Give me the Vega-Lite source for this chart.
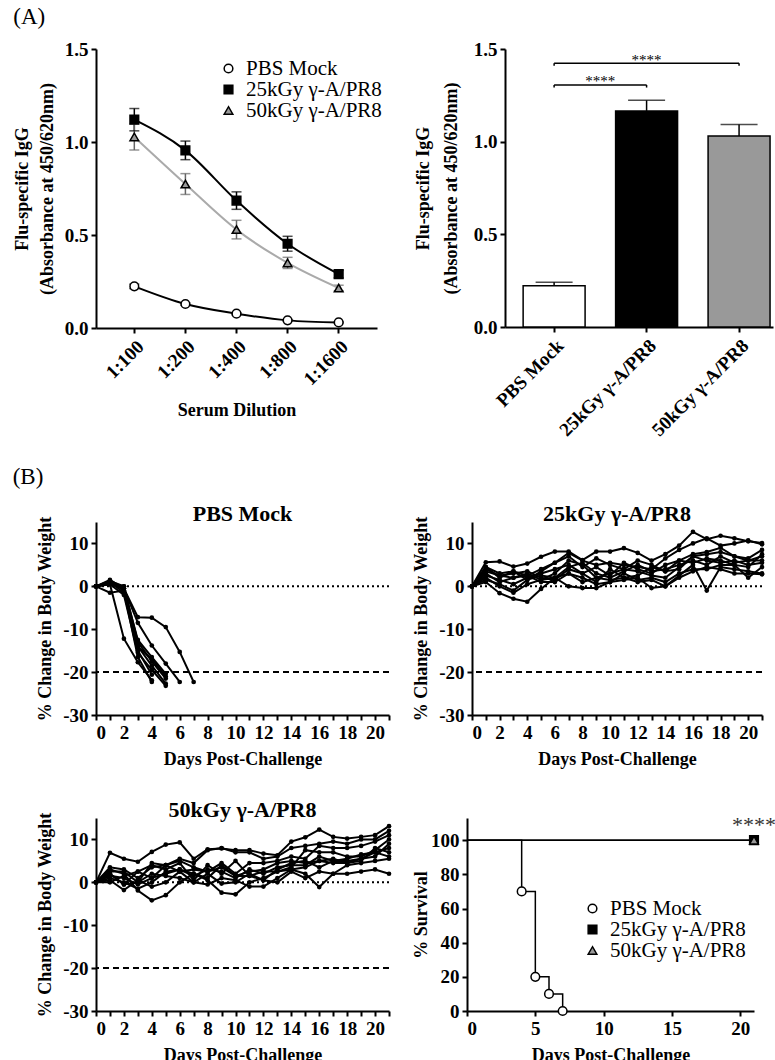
{
"$schema": "https://vega.github.io/schema/vega-lite/v6.json",
"background": "white",
"padding": {"left": 12, "top": 6, "right": 0, "bottom": 0},
"config": {
  "font": "Liberation Serif",
  "view": {"stroke": null},
  "axis": {"grid": false, "domainColor": "black", "domainWidth": 2, "tickColor": "black", "tickWidth": 2, "tickSize": 5, "labelFont": "Liberation Serif", "labelFontWeight": "bold", "labelFontSize": 19, "labelColor": "black", "titleFont": "Liberation Serif", "titleFontWeight": "bold", "titleFontSize": 18, "titleColor": "black", "labelPadding": 3, "labelOverlap": false},
  "title": {"font": "Liberation Serif", "fontWeight": "bold", "fontSize": 22, "color": "black", "offset": -10, "frame": "group"},
  "legend": {"labelFont": "Liberation Serif", "labelFontSize": 21, "labelColor": "black", "padding": 0, "rowPadding": 0}
},
"resolve": {"scale": {"fill": "independent", "shape": "independent"}},
"datasets": {
  "elisa": [
    {"group": "PBS Mock", "dil": "1:100", "mean": 0.224, "lo": 0.212, "hi": 0.236},
    {"group": "PBS Mock", "dil": "1:200", "mean": 0.129, "lo": 0.123, "hi": 0.135},
    {"group": "PBS Mock", "dil": "1:400", "mean": 0.077, "lo": 0.072, "hi": 0.082},
    {"group": "PBS Mock", "dil": "1:800", "mean": 0.041, "lo": 0.037, "hi": 0.045},
    {"group": "PBS Mock", "dil": "1:1600", "mean": 0.03, "lo": 0.027, "hi": 0.033},
    {"group": "25kGy γ-A/PR8", "dil": "1:100", "mean": 1.12, "lo": 1.06, "hi": 1.18},
    {"group": "25kGy γ-A/PR8", "dil": "1:200", "mean": 0.955, "lo": 0.905, "hi": 1.005},
    {"group": "25kGy γ-A/PR8", "dil": "1:400", "mean": 0.685, "lo": 0.638, "hi": 0.732},
    {"group": "25kGy γ-A/PR8", "dil": "1:800", "mean": 0.453, "lo": 0.413, "hi": 0.493},
    {"group": "25kGy γ-A/PR8", "dil": "1:1600", "mean": 0.29, "lo": 0.27, "hi": 0.31},
    {"group": "50kGy γ-A/PR8", "dil": "1:100", "mean": 1.027, "lo": 0.957, "hi": 1.097},
    {"group": "50kGy γ-A/PR8", "dil": "1:200", "mean": 0.774, "lo": 0.718, "hi": 0.83},
    {"group": "50kGy γ-A/PR8", "dil": "1:400", "mean": 0.529, "lo": 0.479, "hi": 0.579},
    {"group": "50kGy γ-A/PR8", "dil": "1:800", "mean": 0.35, "lo": 0.32, "hi": 0.38},
    {"group": "50kGy γ-A/PR8", "dil": "1:1600", "mean": 0.215, "lo": 0.2, "hi": 0.23}
  ],
  "bars": [
    {"group": "PBS Mock", "mean": 0.222, "hi": 0.242},
    {"group": "25kGy γ-A/PR8", "mean": 1.166, "hi": 1.223},
    {"group": "50kGy γ-A/PR8", "mean": 1.03, "hi": 1.092}
  ],
  "brk": [
    {"a": "PBS Mock", "b": "25kGy γ-A/PR8", "y": 1.306},
    {"a": "PBS Mock", "b": "50kGy γ-A/PR8", "y": 1.423}
  ],
  "brkends": [
    {"g": "PBS Mock", "y1": 1.292, "y2": 1.306},
    {"g": "25kGy γ-A/PR8", "y1": 1.292, "y2": 1.306},
    {"g": "PBS Mock", "y1": 1.409, "y2": 1.423},
    {"g": "50kGy γ-A/PR8", "y1": 1.409, "y2": 1.423}
  ],
  "pbsw": [
    {"m":"a","d":0,"v":0},{"m":"a","d":1,"v":0.5},{"m":"a","d":2,"v":-0.5},{"m":"a","d":3,"v":-7.2},{"m":"a","d":4,"v":-7.3},{"m":"a","d":5,"v":-9.5},{"m":"a","d":6,"v":-15.3},{"m":"a","d":7,"v":-22.3},
    {"m":"b","d":0,"v":0},{"m":"b","d":1,"v":1.0},{"m":"b","d":2,"v":-0.5},{"m":"b","d":3,"v":-8.5},{"m":"b","d":4,"v":-13.8},{"m":"b","d":5,"v":-18},{"m":"b","d":6,"v":-22.3},
    {"m":"c","d":0,"v":0},{"m":"c","d":1,"v":0.5},{"m":"c","d":2,"v":-12.2},{"m":"c","d":3,"v":-17.7},{"m":"c","d":4,"v":-21.9},
    {"m":"d","d":0,"v":0},{"m":"d","d":1,"v":1.0},{"m":"d","d":2,"v":-1.5},{"m":"d","d":3,"v":-14},{"m":"d","d":4,"v":-18.5},{"m":"d","d":5,"v":-22.7},
    {"m":"e","d":0,"v":0},{"m":"e","d":1,"v":0.5},{"m":"e","d":2,"v":-2},{"m":"e","d":3,"v":-15.5},{"m":"e","d":4,"v":-19.5},{"m":"e","d":5,"v":-23.2},
    {"m":"f","d":0,"v":0},{"m":"f","d":1,"v":1.3},{"m":"f","d":2,"v":-1},{"m":"f","d":3,"v":-16.5},{"m":"f","d":4,"v":-22.3},
    {"m":"g","d":0,"v":0},{"m":"g","d":1,"v":0.8},{"m":"g","d":2,"v":0},{"m":"g","d":3,"v":-15},{"m":"g","d":4,"v":-20.6},
    {"m":"h","d":0,"v":0},{"m":"h","d":1,"v":1.2},{"m":"h","d":2,"v":0},{"m":"h","d":3,"v":-13},{"m":"h","d":4,"v":-17.5},{"m":"h","d":5,"v":-21.5},
    {"m":"i","d":0,"v":0},{"m":"i","d":1,"v":1.5},{"m":"i","d":2,"v":-0.5},{"m":"i","d":3,"v":-12.5},{"m":"i","d":4,"v":-16.5},{"m":"i","d":5,"v":-20.4},
    {"m":"j","d":0,"v":0},{"m":"j","d":1,"v":-1.5},{"m":"j","d":2,"v":-1},{"m":"j","d":3,"v":-14},{"m":"j","d":4,"v":-17},{"m":"j","d":5,"v":-21}
  ],
  "k25w": [
    {"m":"a","d":0,"v":0},{"m":"a","d":1,"v":5.6},{"m":"a","d":2,"v":5.8},{"m":"a","d":3,"v":4.6},{"m":"a","d":4,"v":5.3},{"m":"a","d":5,"v":6.9},{"m":"a","d":6,"v":8.1},{"m":"a","d":7,"v":8.1},{"m":"a","d":8,"v":6.1},{"m":"a","d":9,"v":8.1},{"m":"a","d":10,"v":8.1},{"m":"a","d":11,"v":8.9},{"m":"a","d":12,"v":7.8},{"m":"a","d":13,"v":6.0},{"m":"a","d":14,"v":7.5},{"m":"a","d":15,"v":9.5},{"m":"a","d":16,"v":12.7},{"m":"a","d":17,"v":11.0},{"m":"a","d":18,"v":11.8},{"m":"a","d":19,"v":11.2},{"m":"a","d":20,"v":10.5},{"m":"a","d":21,"v":10.1},
    {"m":"b","d":0,"v":0},{"m":"b","d":1,"v":4.5},{"m":"b","d":2,"v":3},{"m":"b","d":3,"v":3.5},{"m":"b","d":4,"v":2.5},{"m":"b","d":5,"v":4},{"m":"b","d":6,"v":5.5},{"m":"b","d":7,"v":7.8},{"m":"b","d":8,"v":6},{"m":"b","d":9,"v":5},{"m":"b","d":10,"v":5.5},{"m":"b","d":11,"v":5},{"m":"b","d":12,"v":4.5},{"m":"b","d":13,"v":4},{"m":"b","d":14,"v":6.5},{"m":"b","d":15,"v":8.5},{"m":"b","d":16,"v":10},{"m":"b","d":17,"v":11.2},{"m":"b","d":18,"v":9.5},{"m":"b","d":19,"v":10},{"m":"b","d":20,"v":10.7},{"m":"b","d":21,"v":9.8},
    {"m":"c","d":0,"v":0},{"m":"c","d":1,"v":3.5},{"m":"c","d":2,"v":2.5},{"m":"c","d":3,"v":2},{"m":"c","d":4,"v":3},{"m":"c","d":5,"v":1.5},{"m":"c","d":6,"v":3},{"m":"c","d":7,"v":6},{"m":"c","d":8,"v":5},{"m":"c","d":9,"v":2},{"m":"c","d":10,"v":3},{"m":"c","d":11,"v":4},{"m":"c","d":12,"v":3.5},{"m":"c","d":13,"v":2.5},{"m":"c","d":14,"v":2},{"m":"c","d":15,"v":4.5},{"m":"c","d":16,"v":7},{"m":"c","d":17,"v":7.5},{"m":"c","d":18,"v":8},{"m":"c","d":19,"v":7},{"m":"c","d":20,"v":6.5},{"m":"c","d":21,"v":8.5},
    {"m":"d","d":0,"v":0},{"m":"d","d":1,"v":2.5},{"m":"d","d":2,"v":1.5},{"m":"d","d":3,"v":0.5},{"m":"d","d":4,"v":2},{"m":"d","d":5,"v":3},{"m":"d","d":6,"v":4},{"m":"d","d":7,"v":5},{"m":"d","d":8,"v":3},{"m":"d","d":9,"v":4.5},{"m":"d","d":10,"v":2.5},{"m":"d","d":11,"v":5.5},{"m":"d","d":12,"v":4},{"m":"d","d":13,"v":3},{"m":"d","d":14,"v":5},{"m":"d","d":15,"v":6},{"m":"d","d":16,"v":5.5},{"m":"d","d":17,"v":6.5},{"m":"d","d":18,"v":6},{"m":"d","d":19,"v":5},{"m":"d","d":20,"v":4.5},{"m":"d","d":21,"v":7.5},
    {"m":"e","d":0,"v":0},{"m":"e","d":1,"v":1.5},{"m":"e","d":2,"v":0.5},{"m":"e","d":3,"v":-1},{"m":"e","d":4,"v":1.5},{"m":"e","d":5,"v":2.5},{"m":"e","d":6,"v":2},{"m":"e","d":7,"v":4.5},{"m":"e","d":8,"v":5.5},{"m":"e","d":9,"v":3},{"m":"e","d":10,"v":2},{"m":"e","d":11,"v":3.5},{"m":"e","d":12,"v":5},{"m":"e","d":13,"v":3.5},{"m":"e","d":14,"v":4},{"m":"e","d":15,"v":5},{"m":"e","d":16,"v":6},{"m":"e","d":17,"v":5},{"m":"e","d":18,"v":7},{"m":"e","d":19,"v":5.5},{"m":"e","d":20,"v":6},{"m":"e","d":21,"v":6},
    {"m":"f","d":0,"v":0},{"m":"f","d":1,"v":4},{"m":"f","d":2,"v":2.5},{"m":"f","d":3,"v":3},{"m":"f","d":4,"v":3.5},{"m":"f","d":5,"v":2},{"m":"f","d":6,"v":1.5},{"m":"f","d":7,"v":4},{"m":"f","d":8,"v":3},{"m":"f","d":9,"v":1},{"m":"f","d":10,"v":4},{"m":"f","d":11,"v":2},{"m":"f","d":12,"v":2.5},{"m":"f","d":13,"v":4.5},{"m":"f","d":14,"v":3.5},{"m":"f","d":15,"v":4},{"m":"f","d":16,"v":7},{"m":"f","d":17,"v":6},{"m":"f","d":18,"v":5.5},{"m":"f","d":19,"v":6},{"m":"f","d":20,"v":5},{"m":"f","d":21,"v":5.5},
    {"m":"g","d":0,"v":0},{"m":"g","d":1,"v":3},{"m":"g","d":2,"v":1},{"m":"g","d":3,"v":2},{"m":"g","d":4,"v":2.5},{"m":"g","d":5,"v":1},{"m":"g","d":6,"v":1},{"m":"g","d":7,"v":3},{"m":"g","d":8,"v":2},{"m":"g","d":9,"v":0.5},{"m":"g","d":10,"v":1},{"m":"g","d":11,"v":3},{"m":"g","d":12,"v":1.5},{"m":"g","d":13,"v":2},{"m":"g","d":14,"v":1},{"m":"g","d":15,"v":3},{"m":"g","d":16,"v":4},{"m":"g","d":17,"v":4},{"m":"g","d":18,"v":5},{"m":"g","d":19,"v":5},{"m":"g","d":20,"v":2},{"m":"g","d":21,"v":4.5},
    {"m":"h","d":0,"v":0},{"m":"h","d":1,"v":2},{"m":"h","d":2,"v":0},{"m":"h","d":3,"v":-1.5},{"m":"h","d":4,"v":0.5},{"m":"h","d":5,"v":1.5},{"m":"h","d":6,"v":2},{"m":"h","d":7,"v":0},{"m":"h","d":8,"v":-0.4},{"m":"h","d":9,"v":-0.4},{"m":"h","d":10,"v":1},{"m":"h","d":11,"v":1.5},{"m":"h","d":12,"v":2},{"m":"h","d":13,"v":-0.4},{"m":"h","d":14,"v":0},{"m":"h","d":15,"v":2.5},{"m":"h","d":16,"v":5},{"m":"h","d":17,"v":-1},{"m":"h","d":18,"v":4.5},{"m":"h","d":19,"v":4},{"m":"h","d":20,"v":3.5},{"m":"h","d":21,"v":3},
    {"m":"i","d":0,"v":0},{"m":"i","d":1,"v":1},{"m":"i","d":2,"v":-1.6},{"m":"i","d":3,"v":-2.9},{"m":"i","d":4,"v":-3.6},{"m":"i","d":5,"v":-0.6},{"m":"i","d":6,"v":2},{"m":"i","d":7,"v":3},{"m":"i","d":8,"v":1},{"m":"i","d":9,"v":2},{"m":"i","d":10,"v":1.5},{"m":"i","d":11,"v":2},{"m":"i","d":12,"v":1},{"m":"i","d":13,"v":1.5},{"m":"i","d":14,"v":0},{"m":"i","d":15,"v":2},{"m":"i","d":16,"v":3.5},{"m":"i","d":17,"v":4.5},{"m":"i","d":18,"v":4},{"m":"i","d":19,"v":3},{"m":"i","d":20,"v":3},{"m":"i","d":21,"v":2.8},
    {"m":"j","d":0,"v":0},{"m":"j","d":1,"v":4.5},{"m":"j","d":2,"v":2},{"m":"j","d":3,"v":3.5},{"m":"j","d":4,"v":1.5},{"m":"j","d":5,"v":3.5},{"m":"j","d":6,"v":5.5},{"m":"j","d":7,"v":7},{"m":"j","d":8,"v":4.5},{"m":"j","d":9,"v":6.5},{"m":"j","d":10,"v":5},{"m":"j","d":11,"v":4},{"m":"j","d":12,"v":6},{"m":"j","d":13,"v":5},{"m":"j","d":14,"v":3.5},{"m":"j","d":15,"v":6},{"m":"j","d":16,"v":7.5},{"m":"j","d":17,"v":8},{"m":"j","d":18,"v":9},{"m":"j","d":19,"v":7},{"m":"j","d":20,"v":6},{"m":"j","d":21,"v":7}
  ],
  "k50w": [
    {"m":"a","d":0,"v":0},{"m":"a","d":1,"v":6.9},{"m":"a","d":2,"v":5.5},{"m":"a","d":3,"v":4.8},{"m":"a","d":4,"v":7.1},{"m":"a","d":5,"v":8.8},{"m":"a","d":6,"v":9.3},{"m":"a","d":7,"v":5.5},{"m":"a","d":8,"v":7.7},{"m":"a","d":9,"v":7.9},{"m":"a","d":10,"v":7.5},{"m":"a","d":11,"v":7.5},{"m":"a","d":12,"v":6.7},{"m":"a","d":13,"v":6.3},{"m":"a","d":14,"v":9.5},{"m":"a","d":15,"v":10.5},{"m":"a","d":16,"v":12.3},{"m":"a","d":17,"v":10.6},{"m":"a","d":18,"v":10.2},{"m":"a","d":19,"v":10.6},{"m":"a","d":20,"v":11},{"m":"a","d":21,"v":13.1},
    {"m":"b","d":0,"v":0},{"m":"b","d":1,"v":3.5},{"m":"b","d":2,"v":3},{"m":"b","d":3,"v":1},{"m":"b","d":4,"v":3.5},{"m":"b","d":5,"v":4},{"m":"b","d":6,"v":5.5},{"m":"b","d":7,"v":4.5},{"m":"b","d":8,"v":7.5},{"m":"b","d":9,"v":8},{"m":"b","d":10,"v":7},{"m":"b","d":11,"v":7},{"m":"b","d":12,"v":5.5},{"m":"b","d":13,"v":6},{"m":"b","d":14,"v":8},{"m":"b","d":15,"v":8.5},{"m":"b","d":16,"v":9},{"m":"b","d":17,"v":9.5},{"m":"b","d":18,"v":9},{"m":"b","d":19,"v":10},{"m":"b","d":20,"v":10},{"m":"b","d":21,"v":12},
    {"m":"c","d":0,"v":0},{"m":"c","d":1,"v":2.5},{"m":"c","d":2,"v":2.5},{"m":"c","d":3,"v":0},{"m":"c","d":4,"v":4.5},{"m":"c","d":5,"v":4},{"m":"c","d":6,"v":5},{"m":"c","d":7,"v":3.5},{"m":"c","d":8,"v":2.5},{"m":"c","d":9,"v":4.5},{"m":"c","d":10,"v":2},{"m":"c","d":11,"v":4.5},{"m":"c","d":12,"v":4.5},{"m":"c","d":13,"v":5},{"m":"c","d":14,"v":6},{"m":"c","d":15,"v":5.5},{"m":"c","d":16,"v":8.5},{"m":"c","d":17,"v":8},{"m":"c","d":18,"v":8},{"m":"c","d":19,"v":8.5},{"m":"c","d":20,"v":9.5},{"m":"c","d":21,"v":11},
    {"m":"d","d":0,"v":0},{"m":"d","d":1,"v":2},{"m":"d","d":2,"v":-0.5},{"m":"d","d":3,"v":2.5},{"m":"d","d":4,"v":4},{"m":"d","d":5,"v":3},{"m":"d","d":6,"v":4.5},{"m":"d","d":7,"v":0.5},{"m":"d","d":8,"v":4},{"m":"d","d":9,"v":2},{"m":"d","d":10,"v":5},{"m":"d","d":11,"v":1.5},{"m":"d","d":12,"v":2.5},{"m":"d","d":13,"v":2.5},{"m":"d","d":14,"v":3.5},{"m":"d","d":15,"v":7.5},{"m":"d","d":16,"v":7},{"m":"d","d":17,"v":7},{"m":"d","d":18,"v":6},{"m":"d","d":19,"v":6},{"m":"d","d":20,"v":7.5},{"m":"d","d":21,"v":10},
    {"m":"e","d":0,"v":0},{"m":"e","d":1,"v":1.5},{"m":"e","d":2,"v":1},{"m":"e","d":3,"v":-0.5},{"m":"e","d":4,"v":1},{"m":"e","d":5,"v":4},{"m":"e","d":6,"v":2.5},{"m":"e","d":7,"v":3},{"m":"e","d":8,"v":2.5},{"m":"e","d":9,"v":3.5},{"m":"e","d":10,"v":1.5},{"m":"e","d":11,"v":2.5},{"m":"e","d":12,"v":3},{"m":"e","d":13,"v":4.5},{"m":"e","d":14,"v":5},{"m":"e","d":15,"v":4.5},{"m":"e","d":16,"v":5},{"m":"e","d":17,"v":5.5},{"m":"e","d":18,"v":4.5},{"m":"e","d":19,"v":5},{"m":"e","d":20,"v":8},{"m":"e","d":21,"v":7},
    {"m":"f","d":0,"v":0},{"m":"f","d":1,"v":1},{"m":"f","d":2,"v":0},{"m":"f","d":3,"v":-1.5},{"m":"f","d":4,"v":0},{"m":"f","d":5,"v":2.5},{"m":"f","d":6,"v":3},{"m":"f","d":7,"v":2},{"m":"f","d":8,"v":1},{"m":"f","d":9,"v":4},{"m":"f","d":10,"v":1.5},{"m":"f","d":11,"v":1.5},{"m":"f","d":12,"v":0.5},{"m":"f","d":13,"v":3},{"m":"f","d":14,"v":4.5},{"m":"f","d":15,"v":5},{"m":"f","d":16,"v":3.5},{"m":"f","d":17,"v":5},{"m":"f","d":18,"v":5.5},{"m":"f","d":19,"v":6.5},{"m":"f","d":20,"v":7},{"m":"f","d":21,"v":8},
    {"m":"g","d":0,"v":0},{"m":"g","d":1,"v":3},{"m":"g","d":2,"v":2},{"m":"g","d":3,"v":-1.9},{"m":"g","d":4,"v":-4.2},{"m":"g","d":5,"v":-3},{"m":"g","d":6,"v":0},{"m":"g","d":7,"v":2},{"m":"g","d":8,"v":0.5},{"m":"g","d":9,"v":-2.4},{"m":"g","d":10,"v":-2.8},{"m":"g","d":11,"v":0},{"m":"g","d":12,"v":1},{"m":"g","d":13,"v":2.5},{"m":"g","d":14,"v":3},{"m":"g","d":15,"v":3.5},{"m":"g","d":16,"v":5},{"m":"g","d":17,"v":4.5},{"m":"g","d":18,"v":4.5},{"m":"g","d":19,"v":5.5},{"m":"g","d":20,"v":7},{"m":"g","d":21,"v":6},
    {"m":"h","d":0,"v":0},{"m":"h","d":1,"v":0.5},{"m":"h","d":2,"v":-1.8},{"m":"h","d":3,"v":0.5},{"m":"h","d":4,"v":-1},{"m":"h","d":5,"v":0},{"m":"h","d":6,"v":2.5},{"m":"h","d":7,"v":0},{"m":"h","d":8,"v":-0.5},{"m":"h","d":9,"v":1},{"m":"h","d":10,"v":0.5},{"m":"h","d":11,"v":-1},{"m":"h","d":12,"v":-1},{"m":"h","d":13,"v":1},{"m":"h","d":14,"v":3},{"m":"h","d":15,"v":2},{"m":"h","d":16,"v":-1.1},{"m":"h","d":17,"v":2},{"m":"h","d":18,"v":4},{"m":"h","d":19,"v":4.5},{"m":"h","d":20,"v":5},{"m":"h","d":21,"v":5.5},
    {"m":"i","d":0,"v":0},{"m":"i","d":1,"v":2},{"m":"i","d":2,"v":-0.5},{"m":"i","d":3,"v":0},{"m":"i","d":4,"v":2},{"m":"i","d":5,"v":1.5},{"m":"i","d":6,"v":1},{"m":"i","d":7,"v":0},{"m":"i","d":8,"v":2},{"m":"i","d":9,"v":-0.3},{"m":"i","d":10,"v":0},{"m":"i","d":11,"v":2},{"m":"i","d":12,"v":0.5},{"m":"i","d":13,"v":0},{"m":"i","d":14,"v":2.5},{"m":"i","d":15,"v":1},{"m":"i","d":16,"v":2.5},{"m":"i","d":17,"v":2},{"m":"i","d":18,"v":2},{"m":"i","d":19,"v":2.5},{"m":"i","d":20,"v":3},{"m":"i","d":21,"v":2},
    {"m":"j","d":0,"v":0},{"m":"j","d":1,"v":0},{"m":"j","d":2,"v":1.5},{"m":"j","d":3,"v":2.5},{"m":"j","d":4,"v":1},{"m":"j","d":5,"v":2},{"m":"j","d":6,"v":3},{"m":"j","d":7,"v":1.5},{"m":"j","d":8,"v":3},{"m":"j","d":9,"v":2.5},{"m":"j","d":10,"v":1},{"m":"j","d":11,"v":3},{"m":"j","d":12,"v":2},{"m":"j","d":13,"v":3.5},{"m":"j","d":14,"v":4},{"m":"j","d":15,"v":4},{"m":"j","d":16,"v":6},{"m":"j","d":17,"v":5},{"m":"j","d":18,"v":5},{"m":"j","d":19,"v":5.5},{"m":"j","d":20,"v":6},{"m":"j","d":21,"v":9}
  ],
  "survline": [
    {"g": "PBS Mock", "d": 0, "s": 100}, {"g": "PBS Mock", "d": 4, "s": 70}, {"g": "PBS Mock", "d": 5, "s": 20}, {"g": "PBS Mock", "d": 6, "s": 10}, {"g": "PBS Mock", "d": 7, "s": 0},
    {"g": "25kGy γ-A/PR8", "d": 0, "s": 100}, {"g": "25kGy γ-A/PR8", "d": 21, "s": 100},
    {"g": "50kGy γ-A/PR8", "d": 0, "s": 100}, {"g": "50kGy γ-A/PR8", "d": 21, "s": 100}
  ],
  "survpts": [
    {"g": "PBS Mock", "d": 4, "s": 70}, {"g": "PBS Mock", "d": 5, "s": 20}, {"g": "PBS Mock", "d": 6, "s": 10}, {"g": "PBS Mock", "d": 7, "s": 0},
    {"g": "25kGy γ-A/PR8", "d": 21, "s": 100},
    {"g": "50kGy γ-A/PR8", "d": 21, "s": 100}
  ]
},
"spacing": 25,
"vconcat": [
  {
    "title": {"text": "(A)", "anchor": "start", "fontWeight": "normal", "fontSize": 23, "offset": 11, "frame": "bounds"},
    "spacing": 32,
    "resolve": {"scale": {"fill": "independent", "shape": "independent"}},
    "hconcat": [
      {
        "width": 281, "height": 279,
        "data": {"name": "elisa"},
        "layer": [
          {"mark": {"type": "rule", "strokeWidth": 1.5},
           "encoding": {
             "x": {"field": "dil", "type": "ordinal", "scale": {"domain": ["1:100", "1:200", "1:400", "1:800", "1:1600"], "padding": 0.5}, "axis": {"title": "Serum Dilution", "labelAngle": -45, "titlePadding": 13, "labelPadding": 4}},
             "y": {"field": "lo", "type": "quantitative", "scale": {"domain": [0, 1.5], "nice": false}, "axis": {"title": ["Flu-specific IgG", "(Absorbance at 450/620nm)"], "values": [0, 0.5, 1, 1.5], "tickCount": 10, "format": ".1f", "titlePadding": 8, "titleLineHeight": 25}},
             "y2": {"field": "hi"},
             "stroke": {"condition": {"test": "datum.group === '50kGy γ-A/PR8'", "value": "#666666"}, "value": "black"}
           }},
          {"mark": {"type": "tick", "thickness": 1.5, "size": 10},
           "encoding": {
             "x": {"field": "dil", "type": "ordinal"},
             "y": {"field": "hi", "type": "quantitative"},
             "color": {"condition": {"test": "datum.group === '50kGy γ-A/PR8'", "value": "#666666"}, "value": "black"}
           }},
          {"mark": {"type": "tick", "thickness": 1.5, "size": 10},
           "encoding": {
             "x": {"field": "dil", "type": "ordinal"},
             "y": {"field": "lo", "type": "quantitative"},
             "color": {"condition": {"test": "datum.group === '50kGy γ-A/PR8'", "value": "#666666"}, "value": "black"}
           }},
          {"mark": {"type": "line", "interpolate": "monotone", "strokeWidth": 2},
           "encoding": {
             "x": {"field": "dil", "type": "ordinal"},
             "y": {"field": "mean", "type": "quantitative"},
             "detail": {"field": "group"},
             "stroke": {"condition": {"test": "datum.group === '50kGy γ-A/PR8'", "value": "#aaaaaa"}, "value": "black"}
           }},
          {"mark": {"type": "point", "size": 75, "strokeWidth": 1.5, "stroke": "black", "opacity": 1},
           "encoding": {
             "x": {"field": "dil", "type": "ordinal"},
             "y": {"field": "mean", "type": "quantitative"},
             "fill": {"field": "group", "type": "nominal", "scale": {"domain": ["PBS Mock", "25kGy γ-A/PR8", "50kGy γ-A/PR8"], "range": ["white", "black", "#999999"]},
                      "legend": {"title": null, "orient": "none", "legendX": 122, "legendY": 9, "labelOffset": 7, "rowPadding": -7.5, "symbolSize": 75, "encode": {"symbols": {"update": {"stroke": {"value": "black"}, "strokeWidth": {"value": 1.5}}}}}},
             "shape": {"field": "group", "type": "nominal", "scale": {"domain": ["PBS Mock", "25kGy γ-A/PR8", "50kGy γ-A/PR8"], "range": ["circle", "square", "triangle-up"]},
                      "legend": {"title": null, "orient": "none", "legendX": 122, "legendY": 9, "labelOffset": 7, "rowPadding": -7.5, "symbolSize": 75, "encode": {"symbols": {"update": {"stroke": {"value": "black"}, "strokeWidth": {"value": 1.5}}}}}}
           }}
        ]
      },
      {
        "width": 268, "height": 278,
        "layer": [
          {"data": {"name": "bars"},
           "mark": {"type": "bar", "stroke": "black", "strokeWidth": 1.5},
           "encoding": {
             "x": {"field": "group", "type": "nominal", "scale": {"domain": ["PBS Mock", "25kGy γ-A/PR8", "50kGy γ-A/PR8"], "paddingInner": 0.33, "paddingOuter": 0.114, "align": 0.86}, "axis": {"title": null, "labelAngle": -45, "labelPadding": 4}},
             "y": {"field": "mean", "type": "quantitative", "scale": {"domain": [0, 1.5], "nice": false}, "axis": {"title": ["Flu-specific IgG", "(Absorbance at 450/620nm)"], "values": [0, 0.5, 1, 1.5], "tickCount": 10, "format": ".1f", "titlePadding": 13, "titleLineHeight": 28}},
             "fill": {"field": "group", "type": "nominal", "scale": {"domain": ["PBS Mock", "25kGy γ-A/PR8", "50kGy γ-A/PR8"], "range": ["white", "black", "#999999"]}, "legend": null}
           }},
          {"data": {"name": "bars"},
           "mark": {"type": "rule", "strokeWidth": 1.5, "color": "black"},
           "encoding": {
             "x": {"field": "group", "type": "nominal"},
             "y": {"field": "mean", "type": "quantitative"},
             "y2": {"field": "hi"}
           }},
          {"data": {"name": "bars"},
           "mark": {"type": "tick", "thickness": 1.5, "size": 37, "color": "black"},
           "encoding": {
             "x": {"field": "group", "type": "nominal"},
             "y": {"field": "hi", "type": "quantitative"}
           }},
          {"data": {"name": "brk"},
           "mark": {"type": "rule", "strokeWidth": 1.5, "color": "black"},
           "encoding": {
             "x": {"field": "a", "type": "nominal"},
             "x2": {"field": "b"},
             "y": {"field": "y", "type": "quantitative"}
           }},
          {"data": {"name": "brkends"},
           "mark": {"type": "rule", "strokeWidth": 1.5, "color": "black"},
           "encoding": {
             "x": {"field": "g", "type": "nominal"},
             "y": {"field": "y1", "type": "quantitative"},
             "y2": {"field": "y2"}
           }},
          {"data": {"values": [{"g": "PBS Mock", "y": 1.298, "t": "****"}]},
           "mark": {"type": "text", "fontSize": 15, "baseline": "alphabetic", "align": "center", "color": "black"},
           "encoding": {
             "x": {"field": "g", "type": "nominal", "bandPosition": 1.246},
             "y": {"field": "y", "type": "quantitative"},
             "text": {"field": "t"}
           }},
          {"data": {"values": [{"g": "25kGy γ-A/PR8", "y": 1.415, "t": "****"}]},
           "mark": {"type": "text", "fontSize": 15, "baseline": "alphabetic", "align": "center", "color": "black"},
           "encoding": {
             "x": {"field": "g", "type": "nominal"},
             "y": {"field": "y", "type": "quantitative"},
             "text": {"field": "t"}
           }}
        ]
      }
    ]
  },
  {
    "title": {"text": "(B)", "anchor": "start", "fontWeight": "normal", "fontSize": 23, "offset": 14, "frame": "bounds", "dx": -24},
    "columns": 2,
    "align": {"row": "each", "column": "none"},
    "spacing": {"row": 30, "column": 19},
    "resolve": {"scale": {"fill": "independent", "shape": "independent"}},
    "concat": [
      {
        "width": 293, "height": 193,
        "title": {"text": "PBS Mock"},
        "layer": [
          {"data": {"values": [{}]}, "mark": {"type": "rule", "strokeDash": [2, 3], "strokeWidth": 2, "color": "black"}, "encoding": {"y": {"datum": 0}}},
          {"data": {"values": [{}]}, "mark": {"type": "rule", "strokeDash": [6, 4], "strokeWidth": 2, "color": "black"}, "encoding": {"y": {"datum": -20}}},
          {"data": {"name": "pbsw"},
           "mark": {"type": "line", "strokeWidth": 2, "color": "black", "point": {"filled": true, "size": 22, "color": "black", "opacity": 1}},
           "encoding": {
             "x": {"field": "d", "type": "quantitative", "scale": {"domain": [0, 21], "nice": false}, "axis": {"title": "Days Post-Challenge", "values": [0,1,2,3,4,5,6,7,8,9,10,11,12,13,14,15,16,17,18,19,20,21], "tickCount": 30, "labelExpr": "datum.value % 2 === 0 ? '' + datum.value : ''", "titlePadding": 8}},
             "y": {"field": "v", "type": "quantitative", "scale": {"domain": [-30, 15], "nice": false}, "axis": {"title": "% Change in Body Weight", "values": [-30, -20, -10, 0, 10], "tickCount": 10, "labelExpr": "'' + datum.value", "titlePadding": 8}},
             "detail": {"field": "m", "type": "nominal"}
           }}
        ]
      },
      {
        "width": 290, "height": 193,
        "title": {"text": "25kGy γ-A/PR8"},
        "layer": [
          {"data": {"values": [{}]}, "mark": {"type": "rule", "strokeDash": [2, 3], "strokeWidth": 2, "color": "black"}, "encoding": {"y": {"datum": 0}}},
          {"data": {"values": [{}]}, "mark": {"type": "rule", "strokeDash": [6, 4], "strokeWidth": 2, "color": "black"}, "encoding": {"y": {"datum": -20}}},
          {"data": {"name": "k25w"},
           "mark": {"type": "line", "strokeWidth": 2, "color": "black", "point": {"filled": true, "size": 22, "color": "black", "opacity": 1}},
           "encoding": {
             "x": {"field": "d", "type": "quantitative", "scale": {"domain": [0, 21], "nice": false}, "axis": {"title": "Days Post-Challenge", "values": [0,1,2,3,4,5,6,7,8,9,10,11,12,13,14,15,16,17,18,19,20,21], "tickCount": 30, "labelExpr": "datum.value % 2 === 0 ? '' + datum.value : ''", "titlePadding": 8}},
             "y": {"field": "v", "type": "quantitative", "scale": {"domain": [-30, 15], "nice": false}, "axis": {"title": "% Change in Body Weight", "values": [-30, -20, -10, 0, 10], "tickCount": 10, "labelExpr": "'' + datum.value", "titlePadding": 8}},
             "detail": {"field": "m", "type": "nominal"}
           }}
        ]
      },
      {
        "width": 293, "height": 193,
        "title": {"text": "50kGy γ-A/PR8"},
        "layer": [
          {"data": {"values": [{}]}, "mark": {"type": "rule", "strokeDash": [2, 3], "strokeWidth": 2, "color": "black"}, "encoding": {"y": {"datum": 0}}},
          {"data": {"values": [{}]}, "mark": {"type": "rule", "strokeDash": [6, 4], "strokeWidth": 2, "color": "black"}, "encoding": {"y": {"datum": -20}}},
          {"data": {"name": "k50w"},
           "mark": {"type": "line", "strokeWidth": 2, "color": "black", "point": {"filled": true, "size": 22, "color": "black", "opacity": 1}},
           "encoding": {
             "x": {"field": "d", "type": "quantitative", "scale": {"domain": [0, 21], "nice": false}, "axis": {"title": "Days Post-Challenge", "values": [0,1,2,3,4,5,6,7,8,9,10,11,12,13,14,15,16,17,18,19,20,21], "tickCount": 30, "labelExpr": "datum.value % 2 === 0 ? '' + datum.value : ''", "titlePadding": 8}},
             "y": {"field": "v", "type": "quantitative", "scale": {"domain": [-30, 15], "nice": false}, "axis": {"title": "% Change in Body Weight", "values": [-30, -20, -10, 0, 10], "tickCount": 10, "labelExpr": "'' + datum.value", "titlePadding": 8}},
             "detail": {"field": "m", "type": "nominal"}
           }}
        ]
      },
      {
        "width": 287, "height": 193,
        "layer": [
          {"data": {"name": "survline"},
           "mark": {"type": "line", "interpolate": "step-after", "strokeWidth": 1.5, "color": "black"},
           "encoding": {
             "x": {"field": "d", "type": "quantitative", "scale": {"domain": [0, 21], "nice": false}, "axis": {"title": "Days Post-Challenge", "values": [0, 5, 10, 15, 20], "tickCount": 10, "titlePadding": 8}},
             "y": {"field": "s", "type": "quantitative", "scale": {"domain": [0, 113], "nice": false}, "axis": {"title": "% Survival", "values": [0, 20, 40, 60, 80, 100], "tickCount": 10, "labelOverlap": false, "titlePadding": 0}},
             "detail": {"field": "g", "type": "nominal"}
           }},
          {"data": {"name": "survpts"},
           "mark": {"type": "point", "size": 75, "strokeWidth": 1.5, "stroke": "black", "opacity": 1},
           "encoding": {
             "x": {"field": "d", "type": "quantitative"},
             "y": {"field": "s", "type": "quantitative"},
             "fill": {"field": "g", "type": "nominal", "scale": {"domain": ["PBS Mock", "25kGy γ-A/PR8", "50kGy γ-A/PR8"], "range": ["white", "black", "#999999"]},
                      "legend": {"title": null, "orient": "none", "legendX": 115, "legendY": 80, "labelOffset": 7, "rowPadding": -3, "symbolSize": 75, "encode": {"symbols": {"update": {"stroke": {"value": "black"}, "strokeWidth": {"value": 1.5}}}}}},
             "shape": {"field": "g", "type": "nominal", "scale": {"domain": ["PBS Mock", "25kGy γ-A/PR8", "50kGy γ-A/PR8"], "range": ["circle", "square", "triangle-up"]},
                      "legend": {"title": null, "orient": "none", "legendX": 115, "legendY": 80, "labelOffset": 7, "rowPadding": -3, "symbolSize": 75, "encode": {"symbols": {"update": {"stroke": {"value": "black"}, "strokeWidth": {"value": 1.5}}}}}}
           }},
          {"data": {"values": [{"d": 21, "s": 105, "t": "****"}]},
           "mark": {"type": "text", "fontSize": 22, "baseline": "alphabetic", "align": "center", "color": "#333333"},
           "encoding": {
             "x": {"field": "d", "type": "quantitative"},
             "y": {"field": "s", "type": "quantitative"},
             "text": {"field": "t"}
           }}
        ]
      }
    ]
  }
]
}
